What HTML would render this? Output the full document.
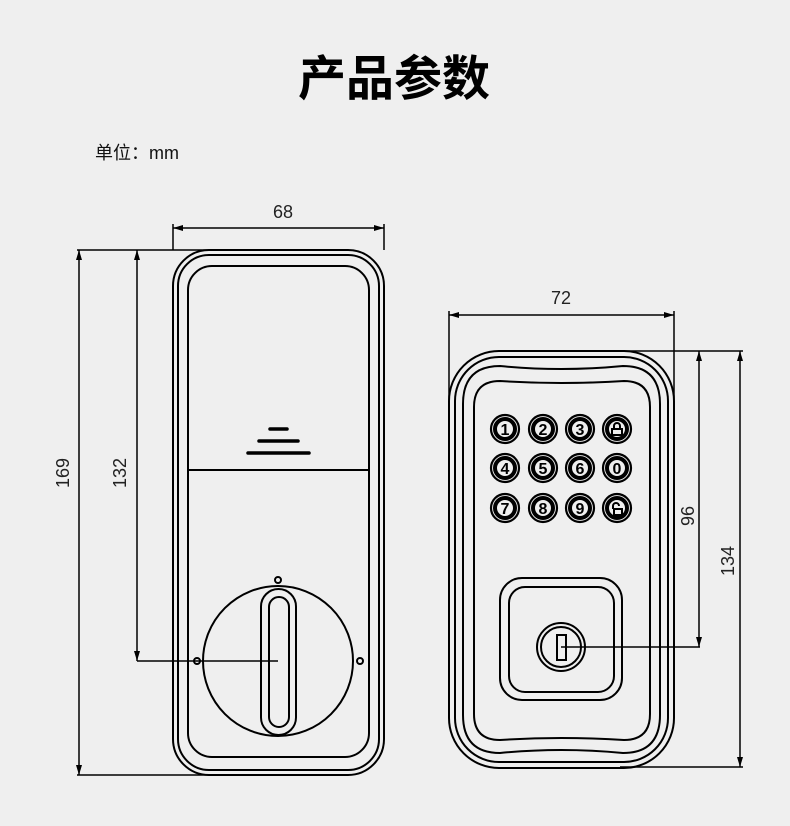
<!DOCTYPE html>
<html><head><meta charset="utf-8"><style>
html,body{margin:0;padding:0;background:#efefef;}
svg{display:block}
</style></head><body>
<svg width="790" height="826" viewBox="0 0 790 826" xmlns="http://www.w3.org/2000/svg">
<defs>
<marker id="a" viewBox="0 0 10 6" refX="10" refY="3" markerWidth="10" markerHeight="6" orient="auto-start-reverse" markerUnits="userSpaceOnUse">
<path d="M0,0 L10,3 L0,6 z" fill="#000"/></marker>
</defs>
<rect width="790" height="826" fill="#efefef"/>
<text x="394" y="95" text-anchor="middle" font-family="'Liberation Sans','Noto Sans CJK SC',sans-serif" font-size="48" font-weight="bold" fill="#000">产品参数</text>
<text x="95" y="159" font-family="'Liberation Sans','Noto Sans CJK SC',sans-serif" font-size="18" fill="#111">单位：mm</text>

<g fill="none" stroke="#000" stroke-width="2">
<rect x="173" y="250" width="211" height="525" rx="36"/>
<rect x="178" y="255" width="201" height="515" rx="31"/>
<rect x="188" y="266" width="181" height="491" rx="24"/>
<line x1="188" y1="470" x2="369" y2="470"/>
<g stroke-width="3.5" stroke-linecap="round">
<line x1="270" y1="429" x2="287" y2="429"/>
<line x1="259" y1="441" x2="298" y2="441"/>
<line x1="248" y1="453" x2="309" y2="453"/>
</g>
<circle cx="278" cy="661" r="75"/>
<rect x="261" y="589" width="35" height="146" rx="17.5"/>
<rect x="269" y="597" width="20" height="130" rx="10"/>
<circle cx="278" cy="580" r="3"/>
<circle cx="197" cy="661" r="3"/>
<circle cx="360" cy="661" r="3"/>

<line x1="173" y1="224" x2="173" y2="250" stroke-width="1.5"/>
<line x1="384" y1="224" x2="384" y2="250" stroke-width="1.5"/>
<line x1="173" y1="228" x2="384" y2="228" stroke-width="1.5" marker-start="url(#a)" marker-end="url(#a)"/>
<line x1="77" y1="250" x2="210" y2="250" stroke-width="1.5"/>
<line x1="77" y1="775" x2="210" y2="775" stroke-width="1.5"/>
<line x1="79" y1="250" x2="79" y2="775" stroke-width="1.5" marker-start="url(#a)" marker-end="url(#a)"/>
<line x1="137" y1="250" x2="137" y2="661" stroke-width="1.5" marker-start="url(#a)" marker-end="url(#a)"/>
<line x1="137" y1="661" x2="278" y2="661" stroke-width="1.5"/>

<rect x="449" y="351" width="225" height="417" rx="50"/>
<rect x="455" y="357" width="213" height="405" rx="44"/>
<path d="M463,404 Q463,366 500,366 Q561,372 623,366 Q660,366 660,404 L660,715 Q660,753 623,753 Q561,747 500,753 Q463,753 463,715 Z"/>
<path d="M474,407 Q474,381 500,381 Q561,385 624,381 Q650,381 650,407 L650,714 Q650,740 624,740 Q561,736 500,740 Q474,740 474,714 Z"/>
<rect x="500" y="578" width="122" height="122" rx="22"/>
<rect x="509" y="587" width="105" height="105" rx="16"/>
<circle cx="561" cy="647" r="24"/>
<circle cx="561" cy="647" r="20"/>
<rect x="557" y="635" width="9" height="25"/>

<line x1="449" y1="311" x2="449" y2="400" stroke-width="1.5"/>
<line x1="674" y1="311" x2="674" y2="400" stroke-width="1.5"/>
<line x1="449" y1="315" x2="674" y2="315" stroke-width="1.5" marker-start="url(#a)" marker-end="url(#a)"/>
<line x1="560" y1="351" x2="743" y2="351" stroke-width="1.5"/>
<line x1="620" y1="767" x2="743" y2="767" stroke-width="1.5"/>
<line x1="699" y1="351" x2="699" y2="647" stroke-width="1.5" marker-start="url(#a)" marker-end="url(#a)"/>
<line x1="740" y1="351" x2="740" y2="767" stroke-width="1.5" marker-start="url(#a)" marker-end="url(#a)"/>
<line x1="561" y1="647" x2="700" y2="647" stroke-width="1.5"/>
</g>

<g font-family="'Liberation Sans',sans-serif" font-weight="bold" font-size="16" text-anchor="middle" fill="#000">
<g fill="none" stroke="#000">
<g stroke-width="2.2">
<circle cx="505" cy="429" r="14"/><circle cx="543" cy="429" r="14"/><circle cx="580" cy="429" r="14"/><circle cx="617" cy="429" r="14"/>
<circle cx="505" cy="468" r="14"/><circle cx="543" cy="468" r="14"/><circle cx="580" cy="468" r="14"/><circle cx="617" cy="468" r="14"/>
<circle cx="505" cy="508" r="14"/><circle cx="543" cy="508" r="14"/><circle cx="580" cy="508" r="14"/><circle cx="617" cy="508" r="14"/>
</g>
<g stroke-width="4">
<circle cx="505" cy="429" r="10"/><circle cx="543" cy="429" r="10"/><circle cx="580" cy="429" r="10"/><circle cx="617" cy="429" r="10"/>
<circle cx="505" cy="468" r="10"/><circle cx="543" cy="468" r="10"/><circle cx="580" cy="468" r="10"/><circle cx="617" cy="468" r="10"/>
<circle cx="505" cy="508" r="10"/><circle cx="543" cy="508" r="10"/><circle cx="580" cy="508" r="10"/><circle cx="617" cy="508" r="10"/>
</g>
<g stroke-width="2">
<rect x="612" y="429" width="10" height="6"/><path d="M614,429 v-3 a3,3 0 0 1 6,0 v3"/>
<rect x="614" y="509" width="8" height="6"/><path d="M613,509 v-3 a3,3 0 0 1 6,0"/>
</g>
</g>
<text x="505" y="435">1</text><text x="543" y="435">2</text><text x="580" y="435">3</text>
<text x="505" y="474">4</text><text x="543" y="474">5</text><text x="580" y="474">6</text><text x="617" y="474">0</text>
<text x="505" y="514">7</text><text x="543" y="514">8</text><text x="580" y="514">9</text>
</g>

<g font-family="'Liberation Sans',sans-serif" font-size="18" fill="#222" text-anchor="middle">
<text x="283" y="218">68</text>
<text x="561" y="304">72</text>
<text transform="translate(69,473) rotate(-90)">169</text>
<text transform="translate(126,473) rotate(-90)">132</text>
<text transform="translate(694,516) rotate(-90)">96</text>
<text transform="translate(734,561) rotate(-90)">134</text>
</g>
</svg>
</body></html>
